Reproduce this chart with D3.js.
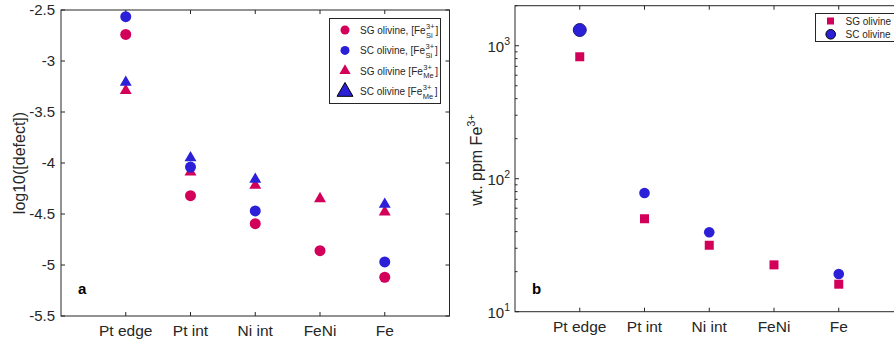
<!DOCTYPE html>
<html>
<head>
<meta charset="utf-8">
<script src="https://cdn.jsdelivr.net/npm/d3@7"></script>
<style>
  body { margin: 0; background: #fff; }
  svg { font-family: "Liberation Sans", Arial, sans-serif; }
</style>
</head>
<body>
<svg id="fig" width="894" height="345"></svg>
<script>
// categories along x (positions 1..5)
const sites = ["Pt edge", "Pt int", "Ni int", "FeNi", "Fe"];

// panel a: log10 of defect concentration
const sgSi = [-2.74, -4.32, -4.595, -4.86, -5.12];
const scSi = [-2.565, -4.04, -4.47, null, -4.97];
const sgMe = [-3.28, -4.08, -4.21, -4.34, -4.47];
const scMe = [-3.2, -3.94, -4.15, null, -4.395];
const yTicksA = [-2.5, -3, -3.5, -4, -4.5, -5, -5.5];

// panel b: wt. ppm Fe3+
const sgPpm = [826, 50, 31.6, 22.5, 16.1];
const scPpm = [1313, 78, 39.6, null, 19.2];
const yTicksB = [10, 100, 1000];

const red = "#d3005a";
const blue = "#2b20d8";
const axisCol = "#262626";

const svg = d3.select("#fig");

// ---------- panel a ----------
const xa = d3.scaleLinear().domain([0, 6]).range([61, 449.5]);
const ya = d3.scaleLinear().domain([-5.5, -2.5]).range([316, 10]);

const ga = svg.append("g");

function boxAxes(g, x, y) {
    const [x0, x1] = x.range();
    const [y0, y1] = y.range();
    g.append("rect")
        .attr("x", x0).attr("y", y1)
        .attr("width", x1 - x0).attr("height", y0 - y1)
        .attr("fill", "none").attr("stroke", axisCol).attr("stroke-width", 1);
    // x ticks, bottom + top, inward
    sites.forEach((s, i) => {
        const px = x(i + 1);
        g.append("line").attr("x1", px).attr("x2", px).attr("y1", y0).attr("y2", y0 - 4)
            .attr("stroke", axisCol);
        g.append("line").attr("x1", px).attr("x2", px).attr("y1", y1).attr("y2", y1 + 4)
            .attr("stroke", axisCol);
        g.append("text").attr("x", px).attr("y", y0 + 20)
            .attr("text-anchor", "middle").attr("font-size", 15.5).attr("fill", axisCol)
            .text(s);
    });
}

boxAxes(ga, xa, ya);
yTicksA.forEach(t => {
    const py = ya(t);
    ga.append("line").attr("x1", 61).attr("x2", 65).attr("y1", py).attr("y2", py).attr("stroke", axisCol);
    ga.append("line").attr("x1", 449.5).attr("x2", 445.5).attr("y1", py).attr("y2", py).attr("stroke", axisCol);
    ga.append("text").attr("x", 55).attr("y", py + 5)
        .attr("text-anchor", "end").attr("font-size", 15).attr("fill", axisCol)
        .text(t);
});
ga.append("text")
    .attr("transform", "translate(24.5,163) rotate(-90)")
    .attr("text-anchor", "middle").attr("font-size", 16).attr("fill", axisCol)
    .text("log10([defect])");
ga.append("text").attr("x", 78).attr("y", 294)
    .attr("font-size", 15).attr("font-weight", "bold").text("a");

const tri = d3.symbol().type(d3.symbolTriangle);

function dots(g, x, y, vals, color, r) {
    g.selectAll(null).data(vals.map((v, i) => [i + 1, v]).filter(d => d[1] != null))
        .enter().append("circle")
        .attr("cx", d => x(d[0])).attr("cy", d => y(d[1]))
        .attr("r", r).attr("fill", color);
}
function tris(g, x, y, vals, color) {
    g.selectAll(null).data(vals.map((v, i) => [i + 1, v]).filter(d => d[1] != null))
        .enter().append("path")
        .attr("d", tri.size(62)())
        .attr("transform", d => `translate(${x(d[0])},${y(d[1]) + 1})`)
        .attr("fill", color);
}

tris(ga, xa, ya, sgMe, red);
tris(ga, xa, ya, scMe, blue);
dots(ga, xa, ya, sgSi, red, 5.5);
dots(ga, xa, ya, scSi, blue, 5.5);

// legend a
const legA = ga.append("g");
legA.append("rect").attr("x", 329.5).attr("y", 18.5).attr("width", 111).attr("height", 85)
    .attr("fill", "#fff").attr("stroke", axisCol);
const legItems = [
    { lab: "SG olivine, [Fe", sub: "Si", shape: "c", col: red },
    { lab: "SC olivine, [Fe", sub: "Si", shape: "c", col: blue },
    { lab: "SG olivine [Fe", sub: "Me", shape: "t", col: red },
    { lab: "SC olivine [Fe", sub: "Me", shape: "T", col: blue }
];
legItems.forEach((d, i) => {
    const cy = 30 + i * 20.4;
    if (d.shape === "c") {
        legA.append("circle").attr("cx", 345).attr("cy", cy).attr("r", 4.5).attr("fill", d.col);
    } else if (d.shape === "t") {
        legA.append("path").attr("d", tri.size(55)()).attr("transform", `translate(345,${cy})`).attr("fill", d.col);
    } else {
        legA.append("path").attr("d", tri.size(110)()).attr("transform", `translate(345,${cy + 0.5})`)
            .attr("fill", d.col).attr("stroke", "#000").attr("stroke-width", 1);
    }
    const t = legA.append("text").attr("x", 360).attr("y", cy + 4).attr("font-size", 10).attr("fill", axisCol);
    t.append("tspan").text(d.lab);
    const sx = 360.5 + t.node().getComputedTextLength();
    legA.append("text").attr("x", sx).attr("y", cy - 1).attr("font-size", 7.5).attr("fill", axisCol).text("3+");
    legA.append("text").attr("x", sx).attr("y", cy + 7.5).attr("font-size", 7.5).attr("fill", axisCol).text(d.sub);
    const w = d.sub === "Me" ? 12 : 9.5;
    legA.append("text").attr("x", sx + w).attr("y", cy + 4).attr("font-size", 10).attr("fill", axisCol).text("]");
});

// ---------- panel b ----------
const xb = d3.scaleLinear().domain([0, 6]).range([515, 903.5]);
const yb = d3.scaleLog().domain([10, 2000]).range([311.7, 5.7]);

const gb = svg.append("g");
boxAxes(gb, xb, yb);
yb.ticks().forEach(t => {
    const py = yb(t);
    const major = yTicksB.includes(t);
    const len = major ? 4 : 2.5;
    gb.append("line").attr("x1", 515).attr("x2", 515 + len).attr("y1", py).attr("y2", py).attr("stroke", axisCol);
});
yTicksB.forEach(t => {
    const py = yb(t);
    const tx = gb.append("text").attr("x", 510).attr("y", py + 6)
        .attr("text-anchor", "end").attr("font-size", 15).attr("fill", axisCol);
    tx.append("tspan").text("10");
    tx.append("tspan").attr("dy", -7).attr("font-size", 10.5).text(Math.round(Math.log10(t)));
});
gb.append("text")
    .attr("transform", "translate(482,160) rotate(-90)")
    .attr("text-anchor", "middle").attr("font-size", 16).attr("fill", axisCol)
    .call(t => {
        t.append("tspan").text("wt. ppm Fe");
        t.append("tspan").attr("dy", -7).attr("font-size", 11).text("3+");
    });
gb.append("text").attr("x", 532).attr("y", 294)
    .attr("font-size", 15).attr("font-weight", "bold").text("b");

gb.selectAll(null).data(sgPpm.map((v, i) => [i + 1, v]).filter(d => d[1] != null))
    .enter().append("rect")
    .attr("x", d => xb(d[0]) - 4.5).attr("y", d => yb(d[1]) - 4.5)
    .attr("width", 9).attr("height", 9).attr("fill", red);
gb.selectAll(null).data(scPpm.map((v, i) => [i + 1, v]).filter(d => d[1] != null))
    .enter().append("circle")
    .attr("cx", d => xb(d[0])).attr("cy", d => yb(d[1]))
    .attr("r", (d, i) => i === 0 ? 6.5 : 5.3)
    .attr("fill", blue)
    .attr("stroke", (d, i) => i === 0 ? "#1a1a80" : "none");

// legend b
const legB = gb.append("g");
legB.append("rect").attr("x", 815.5).attr("y", 13.5).attr("width", 100).attr("height", 28)
    .attr("fill", "#fff").attr("stroke", axisCol);
legB.append("rect").attr("x", 827).attr("y", 17.5).attr("width", 7).attr("height", 7).attr("fill", red);
legB.append("circle").attr("cx", 830.7).attr("cy", 34.3).attr("r", 4.8)
    .attr("fill", blue).attr("stroke", "#000");
legB.append("text").attr("x", 845.5).attr("y", 25).attr("font-size", 10).attr("fill", axisCol).text("SG olivine");
legB.append("text").attr("x", 845.5).attr("y", 38).attr("font-size", 10).attr("fill", axisCol).text("SC olivine");
</script>
</body>
</html>
